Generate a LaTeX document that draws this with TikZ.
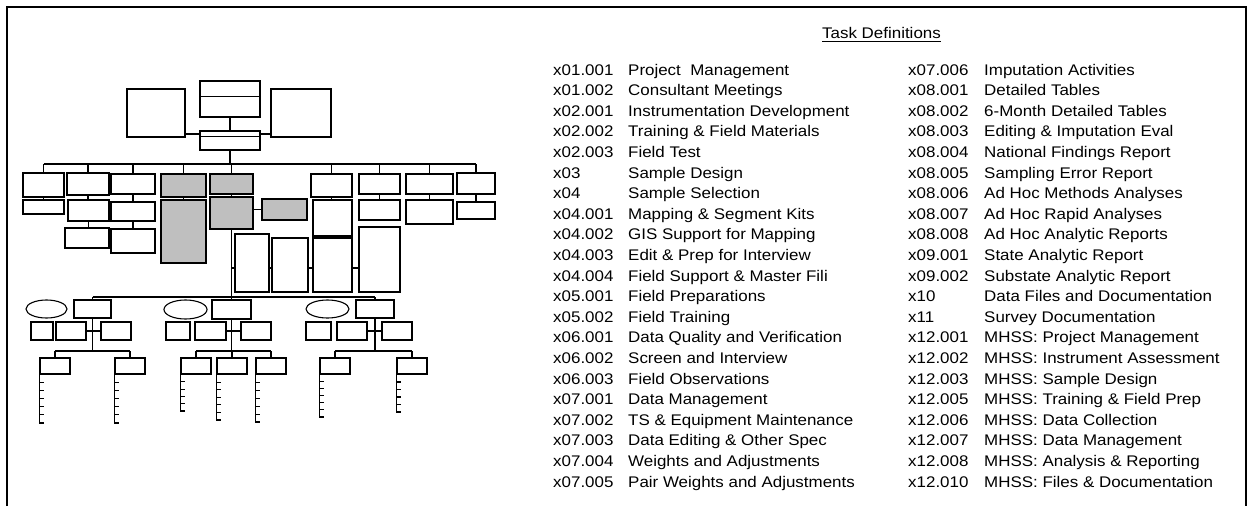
\documentclass[tikz,border=0pt]{standalone}
\usepackage{fontspec}
\setmainfont{Liberation Sans}[FakeStretch=1.1]
\usetikzlibrary{fit,calc,shapes.geometric}
\newcommand\mkbox[6]{\node[#1, fit={(#3,#4) (#5,#6)}] (#2) {};}
\newcommand\myladder[3]{%
  \draw[conn] (#1.south west) -- (#1.south west |- 0,#3);
  \foreach \k in {1,...,#2}{\draw[conn] ($(#1.south west)!\k/#2!(#1.south west |- 0,#3)$) -- ++(5,0);}
}
\begin{document}
\begin{tikzpicture}[x=1pt,y=-1pt,
  bx/.style={draw, line width=1.1pt, inner sep=0pt},
  gbx/.style={bx, fill=black!25},
  conn/.style={line width=1.1pt},
  ell/.style={draw, ellipse, line width=1.1pt, inner sep=0pt},
  txt/.style={anchor=base west, inner sep=0pt, font=\fontsize{15.4}{18}\selectfont}]
\useasboundingbox (0,0) rectangle (1247,506);
% frame
\draw[line width=1.3pt] (7,506) -- (7,7) -- (1246,7) -- (1246,506);

% top level
\mkbox{bx}{T}{200}{81}{260}{117}
\draw[conn] ($(T.north west)+(0,16)$) -- ($(T.north east)+(0,16)$);
\mkbox{bx}{L}{127}{89}{185}{137}
\mkbox{bx}{R}{271}{89}{331}{137}
\mkbox{bx}{M}{200}{131}{260}{150}
\draw[conn] ($(M.north west)+(0,6)$) -- ($(M.north east)+(0,6)$);
\draw[conn] (T.south) -- (M.north);
\draw[conn] (L.east |- 0,134) -- (M.west |- 0,134);
\draw[conn] (M.east |- 0,134) -- (R.west |- 0,134);

% row 1
\mkbox{bx}{A}{23}{173}{64}{197}
\mkbox{bx}{B}{67}{173}{109}{195}
\mkbox{bx}{C}{111}{174}{155}{194}
\mkbox{gbx}{D}{161}{174}{206}{197}
\mkbox{gbx}{E}{210}{174}{253}{194}
\mkbox{bx}{F}{311}{174}{352}{197}
\mkbox{bx}{G}{359}{174}{400}{194}
\mkbox{bx}{H}{406}{174}{453}{194}
\mkbox{bx}{I}{457}{173}{495}{194}
\coordinate (bus) at (0,164);
\draw[conn] (M.south) -- (M.south |- bus);
\draw[conn] (A.north |- bus) -- (I.north |- bus);
\foreach \n in {A,B,C,D,E,F,G,H,I}{\draw[conn] (\n.north) -- (\n.north |- bus);}

% row 2
\mkbox{bx}{A2}{23}{200}{64}{214}
\mkbox{bx}{B2}{68}{200}{109}{221}
\mkbox{bx}{B3}{65}{228}{109}{248}
\mkbox{bx}{C2}{111}{202}{155}{221}
\mkbox{bx}{C3}{111}{229}{155}{253}
\mkbox{gbx}{D2}{161}{200}{206}{263}
\mkbox{gbx}{E2}{210}{197}{253}{229}
\mkbox{gbx}{E3}{262}{199}{307}{220}
\mkbox{bx}{F2}{313}{200}{352}{236}
\mkbox{bx}{G2}{359}{200}{400}{220}
\mkbox{bx}{H2}{406}{200}{453}{224}
\mkbox{bx}{I2}{457}{202}{495}{219}
\foreach \a/\b in {A/A2,B/B2,B2/B3,C/C2,C2/C3,D/D2,E/E2,F/F2,G/G2,H/H2,I/I2}{\draw[conn] (\a.south) -- (\a.south |- \b.north);}
\draw[conn] (E2.east |- E3.west) -- (E3.west);

% tall boxes
\mkbox{bx}{J1}{235}{234}{269}{292}
\mkbox{bx}{J2}{272}{238}{308}{292}
\mkbox{bx}{J3}{313}{238}{352}{292}
\mkbox{bx}{J4}{359}{227}{400}{292}
\coordinate (bustwo) at (0,297);
\draw[conn] (E2.south) -- (E2.south |- bustwo);
\draw[conn] (E2.south |- 0,268) -- (J1.west |- 0,268);
\draw[conn] (J1.east |- 0,268) -- (J2.west |- 0,268);
\draw[conn] (J2.east |- 0,268) -- (J3.west |- 0,268);
\draw[conn] (J3.east |- 0,268) -- (J4.west |- 0,268);

% lower groups
\node[ell, minimum width=41pt, minimum height=18pt] (O1) at (46.5,309) {};
\node[ell, minimum width=43pt, minimum height=19pt] (O2) at (185.5,309.5) {};
\node[ell, minimum width=43pt, minimum height=18pt] (O3) at (327.5,309) {};
\mkbox{bx}{P1}{74}{300}{111}{318}
\mkbox{bx}{P2}{212}{300}{251}{319}
\mkbox{bx}{P3}{356}{300}{394}{318}
\draw[conn] (P1.north |- bustwo) -- (P3.north |- bustwo);
\foreach \n in {P1,P2,P3}{\draw[conn] (\n.north) -- (\n.north |- bustwo);}

% group 1
\mkbox{bx}{Sa1}{31}{322}{53}{340}
\mkbox{bx}{Sb1}{56}{322}{86}{340}
\mkbox{bx}{Sc1}{101}{322}{131}{340}
\mkbox{bx}{Q11}{40}{358}{70}{374}
\mkbox{bx}{Q12}{115}{358}{145}{374}
% group 2
\mkbox{bx}{Sa2}{166}{322}{190}{340}
\mkbox{bx}{Sb2}{195}{322}{226}{340}
\mkbox{bx}{Sc2}{241}{322}{271}{340}
\mkbox{bx}{Q21}{181}{358}{211}{374}
\mkbox{bx}{Q22}{217}{358}{247}{374}
\mkbox{bx}{Q23}{256}{358}{286}{374}
% group 3
\mkbox{bx}{Sa3}{306}{322}{331}{340}
\mkbox{bx}{Sb3}{337}{322}{367}{340}
\mkbox{bx}{Sc3}{382}{322}{412}{340}
\mkbox{bx}{Q31}{320}{358}{350}{374}
\mkbox{bx}{Q32}{397}{358}{427}{374}

\coordinate (subbus) at (0,351);
\foreach \g in {1,2,3}{
  \draw[conn] (P\g.south) -- (P\g.south |- subbus);
  \draw[conn] (Sb\g.east) -- (Sc\g.west);
}
\draw[conn] (Q11.north |- subbus) -- (Q12.north |- subbus);
\draw[conn] (Q21.north |- subbus) -- (Q23.north |- subbus);
\draw[conn] (Q31.north |- subbus) -- (Q32.north |- subbus);
\foreach \n in {Q11,Q12,Q21,Q22,Q23,Q31,Q32}{\draw[conn] (\n.north) -- (\n.north |- subbus);}

\myladder{Q11}{6}{423}
\myladder{Q12}{6}{423}
\myladder{Q21}{5}{411}
\myladder{Q22}{6}{420}
\myladder{Q23}{6}{422}
\myladder{Q31}{6}{417}
\myladder{Q32}{5}{412}

% task definitions
\node[txt] (title) at (822,38) {Task Definitions};
\draw[line width=0.9pt] ([yshift=-3.2pt]title.base west) -- ([yshift=-3.2pt]title.base east);

\foreach \c/\d [count=\i from 0] in {
x01.001/Project~~Management,
x01.002/Consultant Meetings,
x02.001/Instrumentation Development,
x02.002/Training \& Field Materials,
x02.003/Field Test,
x03/Sample Design,
x04/Sample Selection,
x04.001/Mapping \& Segment Kits,
x04.002/GIS Support for Mapping,
x04.003/Edit \& Prep for Interview,
x04.004/Field Support \& Master Fili,
x05.001/Field Preparations,
x05.002/Field Training,
x06.001/Data Quality and Verification,
x06.002/Screen and Interview,
x06.003/Field Observations,
x07.001/Data Management,
x07.002/TS \& Equipment Maintenance,
x07.003/Data Editing \& Other Spec,
x07.004/Weights and Adjustments,
x07.005/Pair Weights and Adjustments}{
  \node[txt] (ca\i) at (553,75+20.6*\i) {\c};
  \node[txt] (da\i) at (628,75+20.6*\i) {\d};
}
\foreach \c/\d [count=\i from 0] in {
x07.006/Imputation Activities,
x08.001/Detailed Tables,
x08.002/6-Month Detailed Tables,
x08.003/Editing \& Imputation Eval,
x08.004/National Findings Report,
x08.005/Sampling Error Report,
x08.006/Ad Hoc Methods Analyses,
x08.007/Ad Hoc Rapid Analyses,
x08.008/Ad Hoc Analytic Reports,
x09.001/State Analytic Report,
x09.002/Substate Analytic Report,
x10/Data Files and Documentation,
x11/Survey Documentation,
x12.001/MHSS: Project Management,
x12.002/MHSS: Instrument Assessment,
x12.003/MHSS: Sample Design,
x12.005/MHSS: Training \& Field Prep,
x12.006/MHSS: Data Collection,
x12.007/MHSS: Data Management,
x12.008/MHSS: Analysis \& Reporting,
x12.010/MHSS: Files \& Documentation}{
  \node[txt] (cb\i) at (908,75+20.6*\i) {\c};
  \node[txt] (db\i) at (984,75+20.6*\i) {\d};
}
\end{tikzpicture}
\end{document}
